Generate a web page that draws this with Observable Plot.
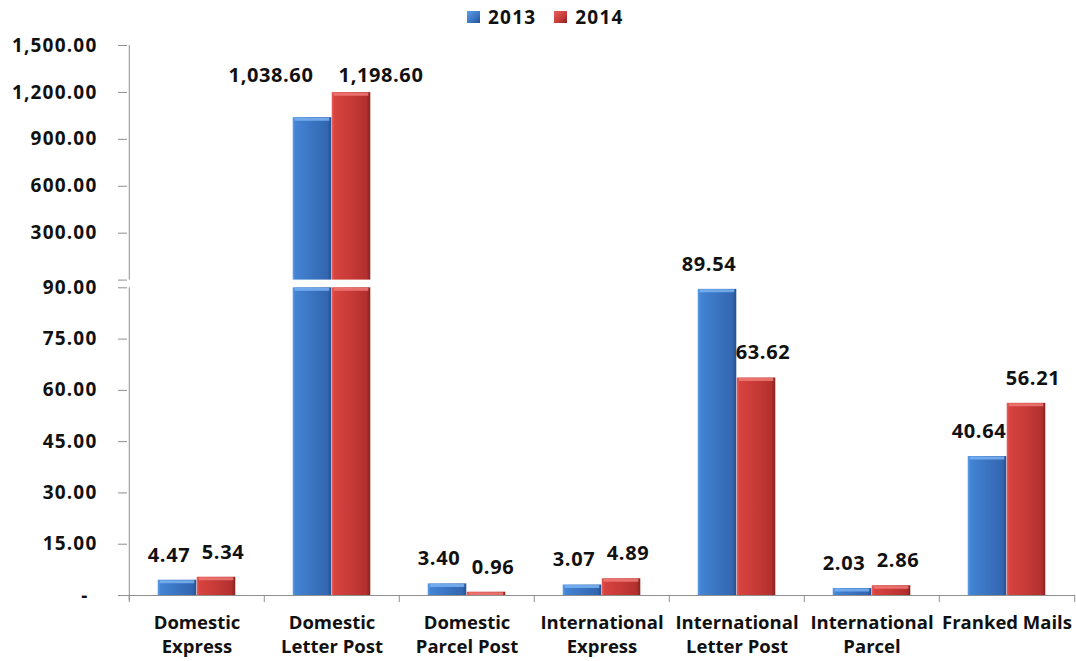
<!DOCTYPE html>
<html>
<head>
<meta charset="utf-8">
<script src="https://cdn.jsdelivr.net/npm/d3@7"></script>
<script src="https://cdn.jsdelivr.net/npm/@observablehq/plot@0.6"></script>
<style>
  html, body { margin: 0; padding: 0; background: #fff; }
  #chart { position: relative; width: 1076px; height: 661px; overflow: hidden; }
  #chart svg { position: absolute; left: 0; top: 0; max-width: none; }
  #legend { position: absolute; top: 4px; left: 467px; display: flex; align-items: center;
            font: bold 19px 'Open Sans', sans-serif; letter-spacing: 1.2px; color: #111; line-height: 26px; }
  #legend .sw { display: inline-block; width: 13px; height: 12px; margin-right: 8px; }
  #legend .item { display: flex; align-items: center; margin-right: 18px; }
  g[aria-label="y-axis tick label"] text { letter-spacing: 1.2px; }
  g[aria-label="text"] text { letter-spacing: 0.6px; }
</style>
</head>
<body>
<div id="chart"><div id="legend"></div></div>
<script>
// ---- data ----
const categories = [
  "Domestic\nExpress",
  "Domestic\nLetter Post",
  "Domestic\nParcel Post",
  "International\nExpress",
  "International\nLetter Post",
  "International\nParcel",
  "Franked Mails"
];
const years = ["2013", "2014"];
const values2013 = [4.47, 1038.60, 3.40, 3.07, 89.54, 2.03, 40.64];
const values2014 = [5.34, 1198.60, 0.96, 4.89, 63.62, 2.86, 56.21];
const lowerTicks = [0, 15, 30, 45, 60, 75, 90];
const upperTicks = [0, 300, 600, 900, 1200, 1500];

// ---- layout / style ----
const W = 1076, H = 661;
const plotLeft = 127, plotRight = 1075;
const lowerTop = 287.3, lowerBottom = 595;
const upperTop = 45, upperBottom = 279.6;
const bw = (plotRight - plotLeft) / categories.length;
const barW = 39;
const axisGray = "#8f8f8f";
const textColor = "#111";
const font = "'Open Sans', sans-serif";
const fmt = d3.format(",.2f");

const rows = categories.flatMap((c, i) => [
  {category: c, year: "2013", value: values2013[i]},
  {category: c, year: "2014", value: values2014[i]}
]);
const breakValue = lowerTicks[lowerTicks.length - 1];

const geom = {
  "2013": {insetLeft: bw / 2 - barW, insetRight: bw / 2, fill: "url(#grad2013)", bevel: "#7ab3f2", labelDx: -28, upperDx: -61},
  "2014": {insetLeft: bw / 2, insetRight: bw / 2 - barW, fill: "url(#grad2014)", bevel: "#f07a76", labelDx: 26, upperDx: 49}
};

function barMarks(filter) {
  return years.flatMap(yr => {
    const data = rows.filter(r => r.year === yr && filter(r));
    const g = geom[yr];
    return [
      Plot.barY(data, {x: "category", y: "value", fill: g.fill, insetLeft: g.insetLeft, insetRight: g.insetRight}),
      Plot.tickY(data, {x: "category", y: "value", stroke: g.bevel, strokeWidth: 3, strokeOpacity: 0.85, dy: 1.5,
                        insetLeft: g.insetLeft + 2, insetRight: g.insetRight + 2})
    ];
  });
}

const baseStyle = {background: "transparent", fontFamily: font, fontWeight: "bold", color: textColor, overflow: "visible"};

const lower = Plot.plot({
  width: W, height: H,
  marginLeft: plotLeft, marginRight: W - plotRight, marginTop: lowerTop, marginBottom: H - lowerBottom,
  style: baseStyle,
  x: {domain: categories, padding: 0},
  y: {domain: [0, breakValue], clamp: true},
  marks: [
    ...barMarks(() => true),
    Plot.ruleY([0], {stroke: axisGray, insetLeft: -9}),
    Plot.ruleX(categories, {x: d => d, dx: -bw / 2, y1: 0, y2: 0, insetBottom: -7, stroke: axisGray}),
    Plot.ruleX(categories.slice(-1), {x: d => d, dx: bw / 2, y1: 0, y2: 0, insetBottom: -7, stroke: axisGray}),
    Plot.ruleX(categories.slice(0, 1), {x: d => d, dx: -bw / 2, y1: 0, y2: breakValue, insetTop: 5, stroke: axisGray}),
    Plot.axisY({ticks: lowerTicks.slice(1), tickSize: 9, tickPadding: 21, label: null,
                tickFormat: fmt, stroke: axisGray, fill: textColor, fontSize: 19}),
    Plot.axisY({ticks: lowerTicks.slice(0, 1), tickSize: 9, tickPadding: 30, label: null,
                tickFormat: () => "-", stroke: axisGray, fill: textColor, fontSize: 19}),
    Plot.axisX({tickSize: 0, tickPadding: 16, label: null, fontSize: 18.5, lineHeight: 1.3, fill: textColor}),
    ...years.map(yr => Plot.text(rows.filter(r => r.year === yr && r.value <= breakValue), {
      x: "category", y: "value", text: d => fmt(d.value),
      dx: geom[yr].labelDx, dy: -25, fontSize: 20, fill: textColor
    }))
  ]
});

const upper = Plot.plot({
  width: W, height: H,
  marginLeft: plotLeft, marginRight: W - plotRight, marginTop: upperTop, marginBottom: H - upperBottom,
  style: baseStyle,
  x: {domain: categories, padding: 0, axis: null},
  y: {domain: [0, upperTicks[upperTicks.length - 1]]},
  marks: [
    ...barMarks(r => r.value > breakValue),
    Plot.ruleX(categories.slice(0, 1), {x: d => d, dx: -bw / 2, y1: 0, y2: upperTicks[upperTicks.length - 1], stroke: axisGray}),
    Plot.axisY({ticks: upperTicks, tickSize: 9, tickPadding: 21, label: null,
                tickFormat: d => d === 0 ? "" : fmt(d),
                stroke: axisGray, fill: textColor, fontSize: 19}),
    ...years.map(yr => Plot.text(rows.filter(r => r.year === yr && r.value > breakValue), {
      x: "category", text: d => fmt(d.value), frameAnchor: "top",
      dx: geom[yr].upperDx, dy: 22, fontSize: 20, fill: textColor
    }))
  ]
});

// gradients (bevelled look)
const defs = d3.select(lower).insert("defs", ":first-child");
const gradStops = {
  "2013": [["0%", "#5f9de8"], ["7%", "#4384d4"], ["50%", "#3a74c1"], ["90%", "#3366b0"], ["100%", "#24508e"]],
  "2014": [["0%", "#e8605c"], ["7%", "#d7433f"], ["50%", "#c63a37"], ["90%", "#b2302e"], ["100%", "#852321"]]
};
for (const yr of years) {
  const lg = defs.append("linearGradient").attr("id", "grad" + yr).attr("x1", "0").attr("x2", "1").attr("y1", "0").attr("y2", "0");
  for (const [o, c] of gradStops[yr]) lg.append("stop").attr("offset", o).attr("stop-color", c);
}

const chart = document.getElementById("chart");
chart.appendChild(lower);
chart.appendChild(upper);

// legend
const legend = d3.select("#legend");
years.forEach(yr => {
  const item = legend.append("div").attr("class", "item");
  const s = gradStops[yr];
  item.append("span").attr("class", "sw")
    .style("background", `linear-gradient(to bottom right, ${s[0][1]}, ${s[2][1]} 60%, ${s[4][1]})`);
  item.append("span").text(yr);
});
</script>
</body>
</html>
